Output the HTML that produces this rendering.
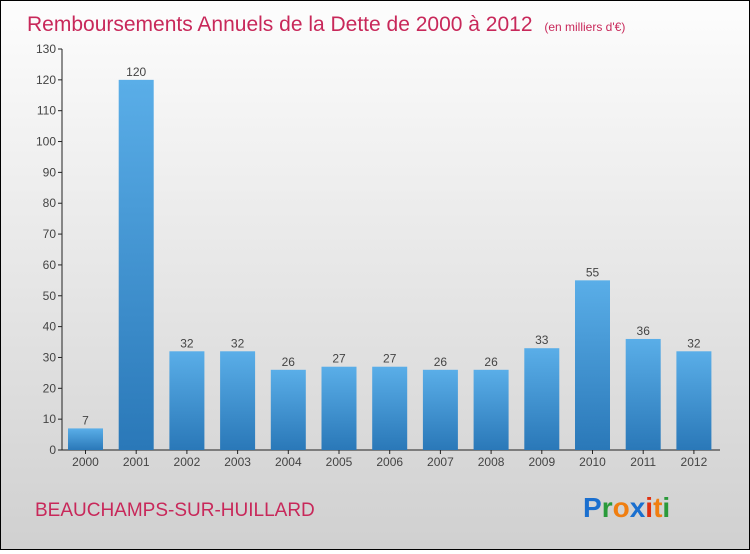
<!DOCTYPE html>
<html><head><meta charset="utf-8"><style>
body{margin:0;width:750px;height:550px;overflow:hidden;font-family:"Liberation Sans",sans-serif}
#wrap{position:absolute;left:0;top:0;width:748px;height:548px;border:1px solid #000;background:linear-gradient(#fdfdfd,#d0d0d0)}
</style></head><body>
<div id="wrap">
<svg id="chart" width="748" height="548">
<defs><linearGradient id="bg" x1="0" y1="0" x2="0" y2="1"><stop offset="0" stop-color="#5aaee8"/><stop offset="1" stop-color="#2a78b8"/></linearGradient></defs>
<text x="26" y="30" font-size="21" fill="#c8285a">Remboursements Annuels de la Dette de 2000 à 2012 <tspan font-size="12" dx="6">(en milliers d'€)</tspan></text>
<text x="34" y="515" font-size="19" fill="#c8285a">BEAUCHAMPS-SUR-HUILLARD</text>
<g font-size="28" font-weight="bold"><text x="582" y="516"><tspan fill="#1a6fcf">P</tspan><tspan fill="#2a9a3a">r</tspan><tspan fill="#f07e10">o</tspan><tspan fill="#1a6fcf">x</tspan><tspan fill="#e03010">i</tspan><tspan fill="#f07e10">t</tspan><tspan fill="#2a9a3a">i</tspan></text></g>
<g id="plot"></g>
</svg></div>
<script>
const categories=["2000","2001","2002","2003","2004","2005","2006","2007","2008","2009","2010","2011","2012"];
const values=[7,120,32,32,26,27,27,26,26,33,55,36,32];
const ticks=[0,10,20,30,40,50,60,70,80,90,100,110,120,130];
const ns="http://www.w3.org/2000/svg",g=document.getElementById('plot');
const y=v=>449-v*(401/130), x=i=>84.5+i*50.7;
function mk(t,a,p){const e=document.createElementNS(ns,t);for(const k in a)e.setAttribute(k,a[k]);(p||g).appendChild(e);return e;}
const ax=mk('line',{x1:61,y1:y(0),x2:61,y2:y(130),stroke:'#222'});


const bx=mk('line',{x1:61,y1:y(0),x2:719,y2:y(0),stroke:'#222'});


ticks.forEach(t=>{mk('line',{x1:57,y1:y(t),x2:61,y2:y(t),stroke:'#222'});
const l=mk('text',{x:55,y:y(t)+4,'font-size':12,fill:'#444','text-anchor':'end'});l.textContent=t;

});
categories.forEach((c,i)=>{const v=values[i];
const r=mk('rect',{x:x(i)-17.5,y:y(v),width:35,height:y(0)-y(v),fill:'url(#bg)'});


const vl=mk('text',{x:x(i),y:y(v)-4,'font-size':12,fill:'#444','text-anchor':'middle'});vl.textContent=v;


mk('line',{x1:x(i),y1:y(0),x2:x(i),y2:y(0)+4,stroke:'#222'});
const cl=mk('text',{x:x(i),y:y(0)+16,'font-size':12,fill:'#444','text-anchor':'middle'});cl.textContent=c;

});
</script></body></html>
